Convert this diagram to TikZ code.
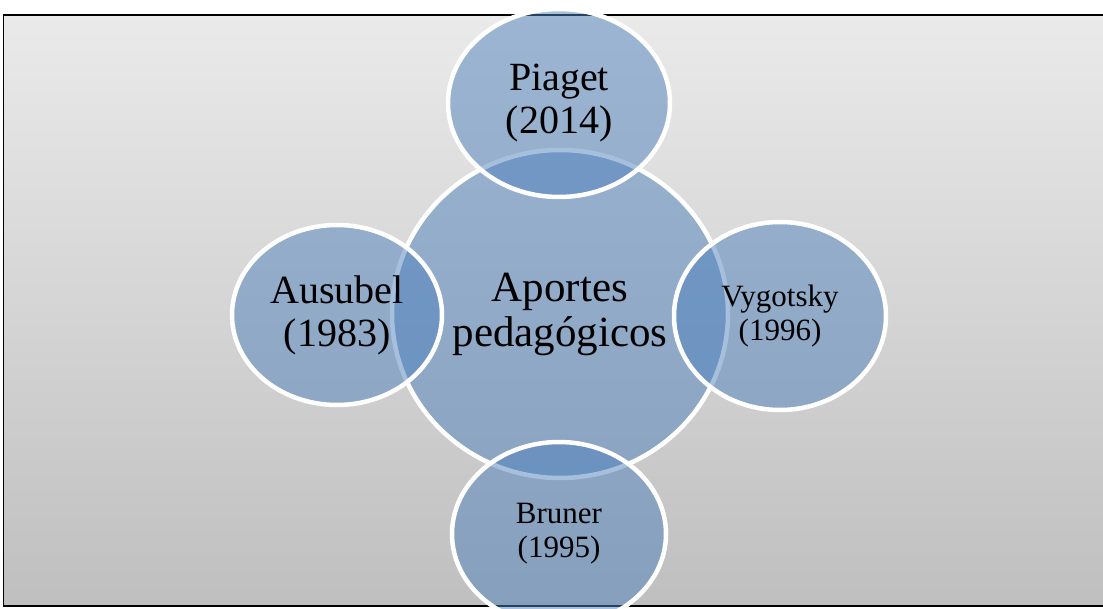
\documentclass[tikz,border=0pt]{standalone}
\usepackage{fontspec}
\setmainfont{Liberation Serif}
\usetikzlibrary{shapes.geometric}
\definecolor{bgtop}{RGB}{234,234,234}
\definecolor{bgbot}{RGB}{191,191,191}
\definecolor{acc}{RGB}{79,129,189}
\tikzset{
  bubble/.style={ellipse, inner sep=0pt, draw=white, line width=4.5pt,
    fill=acc, fill opacity=0.5, text opacity=1, text=black, align=center},
  bigtext/.style={font=\fontsize{43}{45}\selectfont},
  midtext/.style={font=\fontsize{40}{43}\selectfont},
  smalltext/.style={font=\fontsize{31}{34}\selectfont},
  frame/.style={draw=black, line width=1.8pt, top color=bgtop, bottom color=bgbot}
}
\begin{document}
\begin{tikzpicture}[x=1pt,y=-1pt]
\useasboundingbox (0,0) rectangle (1103,609);
\path[frame] (3.5,15) rectangle (1110,606);
\node[bubble, bigtext, minimum width=336pt, minimum height=328pt] (center) at (560,314) {Aportes\\pedagógicos};
\node[bubble, midtext, minimum width=222pt, minimum height=188pt] (piaget) at (559,103) {Piaget\\(2014)};
\node[bubble, midtext, minimum width=210pt, minimum height=180pt] (ausubel) at (337,315) {Ausubel\\(1983)};
\node[bubble, smalltext, minimum width=212pt, minimum height=188pt] (vygotsky) at (780,316) {Vygotsky\\(1996)};
\node[bubble, smalltext, minimum width=214pt, minimum height=184pt] (bruner) at (559,534) {Bruner\\(1995)};
\end{tikzpicture}
\end{document}
